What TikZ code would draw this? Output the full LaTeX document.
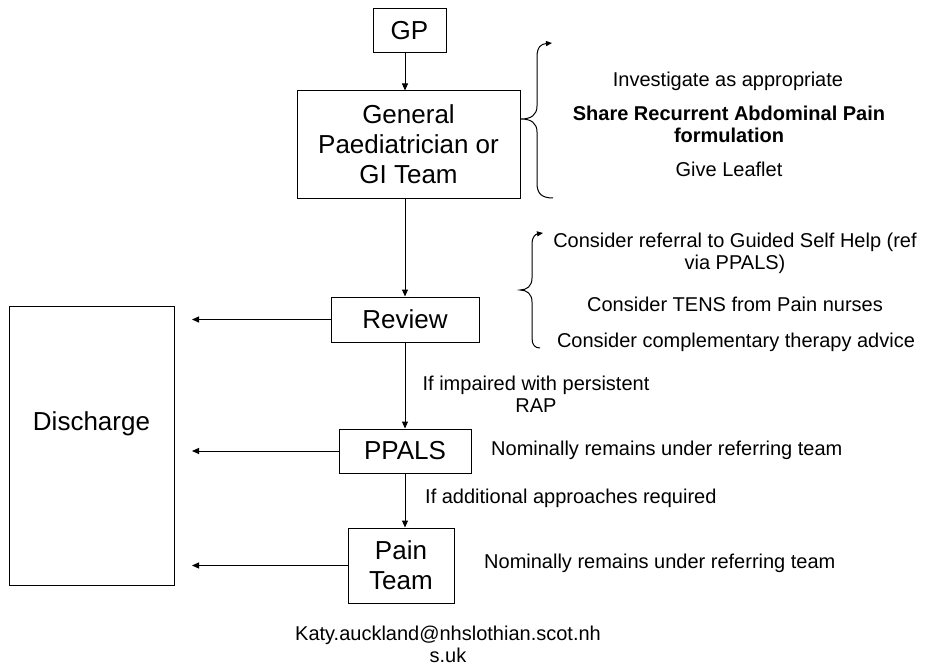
\documentclass[tikz,border=0pt]{standalone}
\usepackage{fontspec}
\setmainfont{Liberation Sans}
\usetikzlibrary{arrows.meta,positioning}

\begin{document}
\begin{tikzpicture}[x = 1pt, y = -1pt,
	pbox/.style = {rectangle,draw,line width = 1pt,inner sep = 0pt,align = center,font = \fontsize{26}{30}\selectfont},
	ptext/.style = {inner sep = 0pt,align = center,font = \fontsize{20}{22}\selectfont},
	parrow/.style = {line width = 1pt,-{Triangle[length = 7pt,width = 6pt]}},
	pbrace/.style = {line width = 1pt}]
		\useasboundingbox (0,0) rectangle (926,666);
		\node (gp) at (409.5,31) [pbox,minimum width = 73pt,minimum height = 44pt] {GP};
		\node (gi) at (408.5,144.5) [pbox,minimum width = 223pt,minimum height = 107pt] {General\\Paediatrician or\\GI Team};
		\node (review) at (405,319.5) [pbox,minimum width = 148pt,minimum height = 45pt] {Review};
		\node (ppals) at (405,451) [pbox,minimum width = 132pt,minimum height = 44pt] {PPALS};
		\node (pain) at (401,565.5) [pbox,minimum width = 106pt,minimum height = 75pt] {Pain\\Team};
		\node (dis) at (91.5,445.5) [pbox,minimum width = 165pt,minimum height = 279pt,label = {[font = \fontsize{26}{30}\selectfont,yshift = 22pt]center:Discharge}] {};
		\node (inv) at (728,81) [ptext] {Investigate as appropriate};
		\node (share) at (729,124) [ptext,font = \fontsize{20}{22}\selectfont\bfseries] {Share Recurrent Abdominal Pain\\formulation};
		\node (leaf) at (729,169) [ptext] {Give Leaflet};
		\node (ref) at (735,253) [ptext] {Consider referral to Guided Self Help (ref\\via PPALS)};
		\node (tens) at (735,304) [ptext] {Consider TENS from Pain nurses};
		\node (comp) at (736,342) [ptext] {Consider complementary therapy advice};
		\node (imp) at (536,394) [ptext] {If impaired with persistent\\RAP};
		\node (add) at (425,498) [ptext,anchor = west] {If additional approaches required};
		\node (nom1) at (491,450) [ptext,anchor = west] {Nominally remains under referring team};
		\node (nom2) at (484,563) [ptext,anchor = west] {Nominally remains under referring team};
		\node (mail) at (448,644) [ptext] {Katy.auckland@nhslothian.scot.nh\\s.uk};
		\coordinate (axis) at (405,0);
		\coordinate (dend) at (192,0);
		\draw [parrow] (gp.south -| axis) -- (gi.north -| axis);
		\draw [parrow] (gi.south -| axis) -- (review.north -| axis);
		\draw [parrow] (review.south -| axis) -- (ppals.north -| axis);
		\draw [parrow] (ppals.south -| axis) -- (pain.north -| axis);
		\draw [parrow] (review.west) -- (review.west -| dend);
		\draw [parrow] (ppals.west) -- (ppals.west -| dend);
		\draw [parrow] (pain.west) -- (pain.west -| dend);
		\draw [pbrace,-{Triangle[length = 6pt,width = 5pt]}] (553,198) .. controls (541,198) and (537,193) .. (537,183) -- (537,132) .. controls (537,123) and (531,119) .. (521,119) .. controls (531,119) and (537,115) .. (537,106) -- (537,57) .. controls (537,47) and (541,44) .. (552,43);
		\draw [pbrace,-{Triangle[length = 6pt,width = 5pt]}] (540,348) .. controls (535,348) and (532,345) .. (532,338) -- (532,302) .. controls (532,294) and (527,290) .. (520,290) .. controls (527,290) and (532,286) .. (532,278) -- (532,243) .. controls (532,237) and (536,234) .. (543,233);
	\end{tikzpicture}
\end{document}
